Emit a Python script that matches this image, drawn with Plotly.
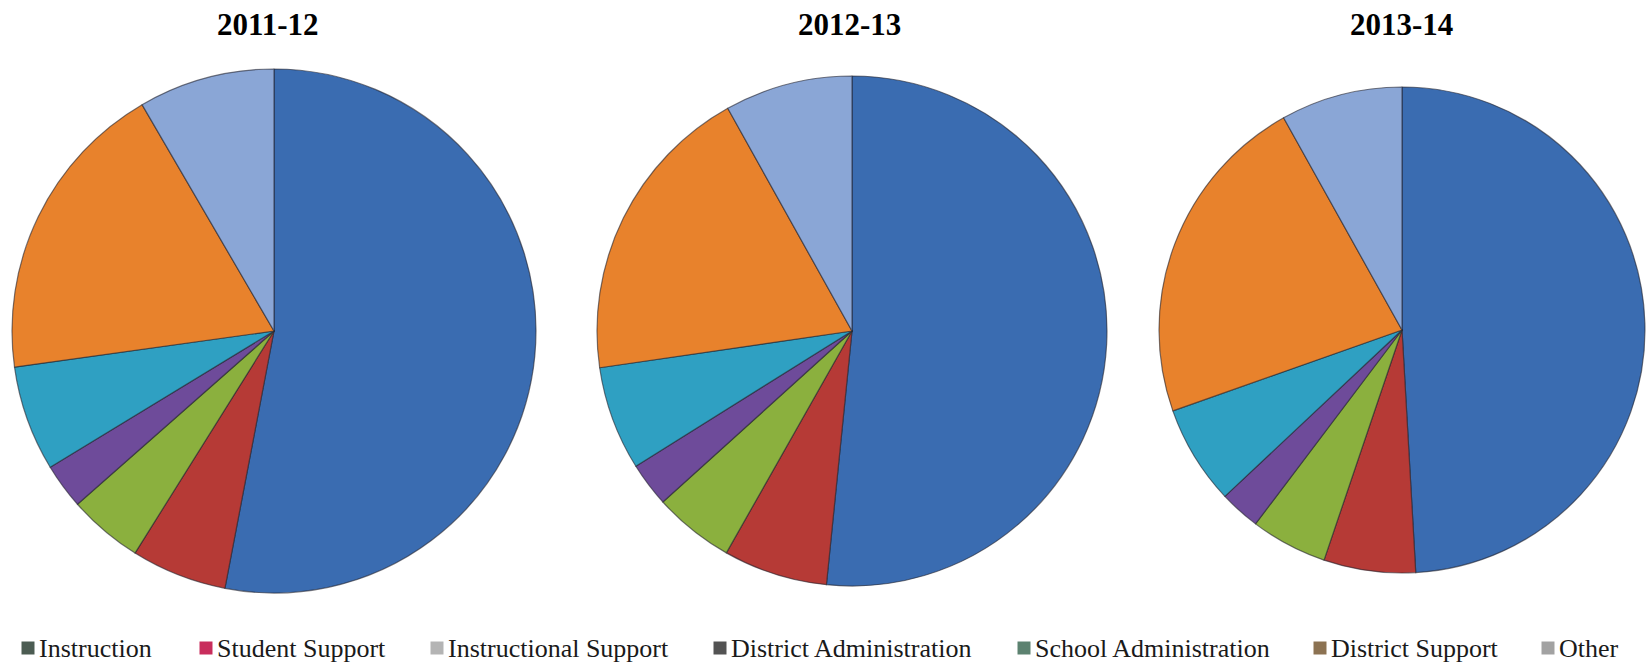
import plotly.graph_objects as go

# Expenditure shares by function, one pie per school year
categories = [
    "Instruction",
    "Student Support",
    "Instructional Support",
    "District Administration",
    "School Administration",
    "District Support",
    "Other",
]
years = ["2011-12", "2012-13", "2013-14"]
share_2011_12 = [53.0, 5.9, 4.6, 2.8, 6.5, 18.8, 8.4]
share_2012_13 = [51.6, 6.6, 5.1, 2.8, 6.6, 19.2, 8.1]
share_2013_14 = [49.1, 6.1, 5.1, 2.7, 6.6, 22.3, 8.1]
shares = [share_2011_12, share_2012_13, share_2013_14]

slice_colors = ["#3A6CB1", "#B63A36", "#8BB03E", "#6E4B9A", "#2FA0C2", "#E8822C", "#8AA6D6"]
legend_swatch_colors = ["#4C5C52", "#C82D5C", "#B4B4B4", "#535353", "#5C8270", "#8C7252", "#A2A2A2"]

W, H = 1648, 670
SERIF = "'Liberation Serif', 'Times New Roman', Times, serif"

# pie centres and radii in pixels (x from left, y from top)
pie_geom = [(274, 331, 262), (852, 331, 255), (1402, 330, 243)]
title_x = [268, 849, 1401]

fig = go.Figure()
for vals, (cx, cy, r), yr in zip(shares, pie_geom, years):
    fig.add_trace(go.Pie(
        labels=categories,
        values=vals,
        sort=False,
        direction="clockwise",
        rotation=0,
        textinfo="none",
        hoverinfo="label+percent",
        showlegend=False,
        marker=dict(colors=slice_colors, line=dict(color="rgba(35,35,45,0.6)", width=1.2)),
        domain=dict(x=[(cx - r) / W, (cx + r) / W], y=[(H - cy - r) / H, (H - cy + r) / H]),
        name=yr,
    ))

annotations = []
for yr, tx in zip(years, title_x):
    annotations.append(dict(
        text="<b>" + yr + "</b>", x=tx / W, y=1 - 24 / H, xref="paper", yref="paper",
        xanchor="center", yanchor="middle", showarrow=False,
        font=dict(family=SERIF, size=31, color="#000000"),
    ))

# legend row drawn as swatches plus labels
legend_swatch_x = [28, 206, 437, 720, 1024, 1320, 1548]
legend_y = 648
shapes = []
for lab, col, mx in zip(categories, legend_swatch_colors, legend_swatch_x):
    shapes.append(dict(
        type="rect", xref="paper", yref="paper",
        x0=(mx - 6.5) / W, x1=(mx + 6.5) / W,
        y0=1 - (legend_y + 6.5) / H, y1=1 - (legend_y - 6.5) / H,
        fillcolor=col, line=dict(width=0),
    ))
    annotations.append(dict(
        text=lab, x=(mx + 9) / W, y=1 - legend_y / H, xref="paper", yref="paper",
        xanchor="left", yanchor="middle", showarrow=False,
        font=dict(family=SERIF, size=26, color="#1a1a1a"),
    ))

fig.update_layout(
    width=W, height=H,
    margin=dict(l=0, r=0, t=0, b=0),
    paper_bgcolor="white",
    plot_bgcolor="white",
    font=dict(family=SERIF),
    annotations=annotations,
    shapes=shapes,
)

fig.write_html("out.html")
